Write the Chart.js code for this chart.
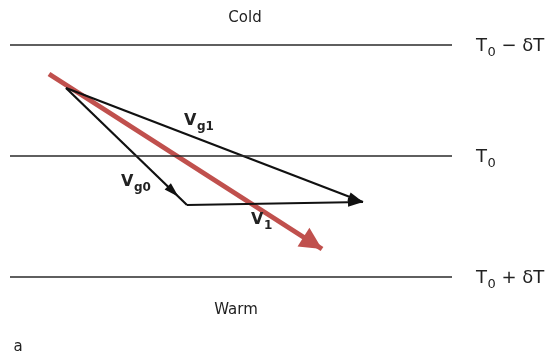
<!DOCTYPE html>
<html><head><meta charset="utf-8">
<script src="https://cdn.jsdelivr.net/npm/chart.js@4/dist/chart.umd.min.js"></script>
<style>html,body{margin:0;padding:0;background:#fff;overflow:hidden}</style>
</head><body>
<canvas id="c" width="560" height="355"></canvas>
<script>
// Isotherms (horizontal temperature lines)
const isothermY = [45, 156, 277];
const isothermMain = ['T', 'T', 'T'];
const isothermSub = ['0', '0', '0'];
const isothermSuffix = [' − δT', '', ' + δT'];
const isothermXFrom = 10;
const isothermXTo = 452;
const isothermLabelX = 476;

// Wind vectors
const vectorMain = ['V', 'V', 'V'];
const vectorSub = ['g1', 'g0', '1'];
const vectorStartX = [66, 66, 187];
const vectorStartY = [88, 88, 205];
const vectorEndX = [363, 187, 363];
const vectorEndY = [202, 205, 202];
const vectorHeadAt = [1.0, 0.93, 1.0];
const vectorLabelX = [184, 121, 251];
const vectorLabelY = [121, 182, 220];

// Red overlay arrow
const overlayStart = [49, 74];
const overlayEnd = [322, 249];

// Region labels
const regionText = ['Cold', 'Warm', 'a'];
const regionX = [245, 236, 18];
const regionY = [18, 310, 347];

const datasets = [];
isothermY.forEach(y => datasets.push({
  data: [{x: isothermXFrom, y: y}, {x: isothermXTo, y: y}],
  showLine: true, borderColor: '#2a2a2a', borderWidth: 1.5, pointRadius: 0
}));
vectorStartX.forEach((sx, i) => datasets.push({
  data: [{x: sx, y: vectorStartY[i]}, {x: vectorEndX[i], y: vectorEndY[i]}],
  showLine: true, borderColor: '#111', borderWidth: 2.2, pointRadius: 0
}));
datasets.push({
  data: [{x: overlayStart[0], y: overlayStart[1]}, {x: overlayEnd[0], y: overlayEnd[1]}],
  showLine: true, borderColor: '#c0504d', borderWidth: 5, pointRadius: 0, borderCapStyle: 'butt'
});

function head(ctx, x1, y1, x2, y2, len, half, color) {
  const a = Math.atan2(y2 - y1, x2 - x1);
  ctx.save();
  ctx.translate(x2, y2); ctx.rotate(a);
  ctx.fillStyle = color;
  ctx.beginPath();
  ctx.moveTo(0, 0); ctx.lineTo(-len, -half); ctx.lineTo(-len, half); ctx.closePath();
  ctx.fill();
  ctx.restore();
}
function subText(ctx, x, y, main, sub, suffix, size, bold) {
  const w = bold ? 'bold ' : '';
  const fam = 'px "DejaVu Sans", Lato, sans-serif';
  ctx.textAlign = 'left'; ctx.textBaseline = 'middle';
  ctx.font = w + size + fam;
  ctx.fillText(main, x, y);
  let cx = x + ctx.measureText(main).width + 0.5;
  ctx.font = w + Math.round(size * 0.72) + fam;
  ctx.fillText(sub, cx, y + size * 0.35);
  cx += ctx.measureText(sub).width;
  if (suffix) {
    ctx.font = w + size + fam;
    ctx.fillText(suffix, cx, y);
  }
}

const decor = {
  id: 'decor',
  afterDatasetsDraw(chart) {
    const ctx = chart.ctx, xs = chart.scales.x, ys = chart.scales.y;
    const X = v => xs.getPixelForValue(v), Y = v => ys.getPixelForValue(v);
    vectorStartX.forEach((sx, i) => {
      const t = vectorHeadAt[i];
      const ex = sx + (vectorEndX[i] - sx) * t, ey = vectorStartY[i] + (vectorEndY[i] - vectorStartY[i]) * t;
      head(ctx, X(sx), Y(vectorStartY[i]), X(ex), Y(ey), 15, 4.5, '#111');
    });
    head(ctx, X(overlayStart[0]), Y(overlayStart[1]), X(overlayEnd[0]), Y(overlayEnd[1]), 22, 11, '#c0504d');
    ctx.save();
    ctx.fillStyle = '#222';
    isothermY.forEach((y, i) => subText(ctx, X(isothermLabelX), Y(y + 1), isothermMain[i], isothermSub[i], isothermSuffix[i], 18, false));
    vectorLabelX.forEach((x, i) => subText(ctx, X(x), Y(vectorLabelY[i]), vectorMain[i], vectorSub[i], '', 16, true));
    ctx.font = '15px "DejaVu Sans", Lato, sans-serif';
    ctx.textAlign = 'center'; ctx.textBaseline = 'middle';
    regionText.forEach((t, i) => ctx.fillText(t, X(regionX[i]), Y(regionY[i])));
    ctx.restore();
  }
};

new Chart(document.getElementById('c'), {
  type: 'scatter',
  data: { datasets },
  options: {
    responsive: false, animation: false, events: [],
    layout: { padding: 0 },
    plugins: { legend: { display: false }, tooltip: { enabled: false } },
    scales: {
      x: { type: 'linear', min: 0, max: 560, display: false },
      y: { type: 'linear', min: 0, max: 355, reverse: true, display: false }
    }
  },
  plugins: [decor]
});
</script>
</body></html>
